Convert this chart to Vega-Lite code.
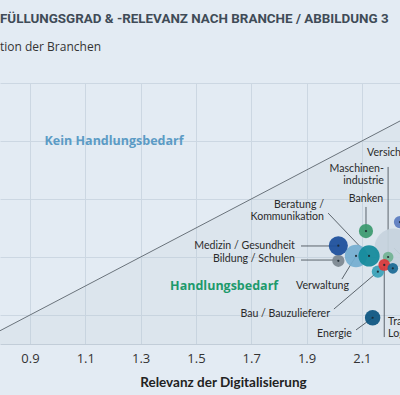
{
  "$schema": "https://vega.github.io/schema/vega-lite/v6.json",
  "width": 400,
  "height": 261,
  "autosize": {"type": "none"},
  "padding": {"top": 83, "left": 0, "right": 0, "bottom": 51},
  "background": "#e3ebf3",
  "title": {
    "text": "FÜLLUNGSGRAD & -RELEVANZ NACH BRANCHE / ABBILDUNG 3",
    "subtitle": "tion der Branchen",
    "anchor": "start",
    "frame": "group",
    "font": "Roboto",
    "fontSize": 13.4,
    "fontWeight": "bold",
    "color": "#3f4b57",
    "subtitleFont": "Open Sans",
    "subtitleFontSize": 12,
    "subtitleColor": "#333333",
    "subtitlePadding": 17,
    "offset": 30
  },
  "resolve": {"scale": {"color": "independent"}},
  "config": {
    "view": {"stroke": null},
    "font": "Open Sans",
    "text": {"lineBreak": "\n", "lineHeight": 12}
  },
  "datasets": {
    "diagonale": [
      {"relevanz": 0.7, "erfuellung": 0.7},
      {"relevanz": 2.5, "erfuellung": 2.5}
    ],
    "branchen": [
      {"branche": "Sonstige", "relevanz": 2.216, "erfuellung": 1.362, "anzahl": 121},
      {"branche": "Verwaltung", "relevanz": 2.079, "erfuellung": 1.307, "anzahl": 40},
      {"branche": "Bildung / Schulen", "relevanz": 2.015, "erfuellung": 1.274, "anzahl": 12},
      {"branche": "Medizin / Gesundheit", "relevanz": 2.015, "erfuellung": 1.378, "anzahl": 29},
      {"branche": "Beratung / Kommunikation", "relevanz": 2.126, "erfuellung": 1.307, "anzahl": 36},
      {"branche": "Banken", "relevanz": 2.115, "erfuellung": 1.479, "anzahl": 16},
      {"branche": "Bau / Bauzulieferer", "relevanz": 2.158, "erfuellung": 1.199, "anzahl": 12},
      {"branche": "Maschinenindustrie", "relevanz": 2.195, "erfuellung": 1.3, "anzahl": 9},
      {"branche": "Transport / Logistik", "relevanz": 2.181, "erfuellung": 1.245, "anzahl": 11},
      {"branche": "Handel", "relevanz": 2.212, "erfuellung": 1.222, "anzahl": 9},
      {"branche": "Energie", "relevanz": 2.139, "erfuellung": 0.881, "anzahl": 19},
      {"branche": "Versicherungen", "relevanz": 2.238, "erfuellung": 1.541, "anzahl": 12}
    ],
    "linien": [
      {"relevanz": 2.115, "erfuellung": 1.645, "relevanz2": 2.115, "erfuellung2": 1.479},
      {"relevanz": 2.195, "erfuellung": 1.921, "relevanz2": 2.195, "erfuellung2": 1.3},
      {"relevanz": 1.978, "erfuellung": 1.603, "relevanz2": 2.126, "erfuellung2": 1.307},
      {"relevanz": 1.88, "erfuellung": 1.376, "relevanz2": 2.015, "erfuellung2": 1.376},
      {"relevanz": 1.88, "erfuellung": 1.279, "relevanz2": 2.015, "erfuellung2": 1.279},
      {"relevanz": 2.028, "erfuellung": 1.148, "relevanz2": 2.079, "erfuellung2": 1.307},
      {"relevanz": 1.999, "erfuellung": 0.941, "relevanz2": 2.158, "erfuellung2": 1.199},
      {"relevanz": 2.079, "erfuellung": 0.797, "relevanz2": 2.139, "erfuellung2": 0.881},
      {"relevanz": 2.181, "erfuellung": 0.748, "relevanz2": 2.181, "erfuellung2": 1.245},
      {"relevanz": 2.216, "erfuellung": 1.362, "relevanz2": 2.281, "erfuellung2": 1.238}
    ],
    "beschriftungen": [
      {"text": "Versicherungen", "relevanz": 2.119, "erfuellung": 2.017},
      {"text": "Maschinen-\nindustrie", "relevanz": 2.18, "erfuellung": 1.907},
      {"text": "Banken", "relevanz": 2.115, "erfuellung": 1.7},
      {"text": "Beratung /\nKommunikation", "relevanz": 1.963, "erfuellung": 1.659},
      {"text": "Medizin / Gesundheit", "relevanz": 1.858, "erfuellung": 1.376},
      {"text": "Bildung / Schulen", "relevanz": 1.858, "erfuellung": 1.286},
      {"text": "Verwaltung", "relevanz": 1.862, "erfuellung": 1.097},
      {"text": "Bau / Bauzulieferer", "relevanz": 1.985, "erfuellung": 0.907},
      {"text": "Energie", "relevanz": 2.064, "erfuellung": 0.769},
      {"text": "Transport /\nLogistik", "relevanz": 2.195, "erfuellung": 0.852}
    ],
    "zonen": [
      {"zone": "Kein Handlungsbedarf", "relevanz": 1.204, "erfuellung": 2.1},
      {"zone": "Handlungsbedarf", "relevanz": 1.602, "erfuellung": 1.097}
    ]
  },
  "layer": [
    {
      "data": {"name": "diagonale"},
      "mark": {"type": "area", "color": "#b5c2cf", "opacity": 0.15, "clip": true},
      "encoding": {
        "x": {
          "field": "relevanz",
          "type": "quantitative",
          "title": "Relevanz der Digitalisierung",
          "scale": {"domain": [0.7915, 2.238], "nice": false, "zero": false},
          "axis": {
            "values": [0.9, 1.1, 1.3, 1.5, 1.7, 1.9, 2.1],
            "format": ".1f",
            "grid": true,
            "gridColor": "#ccd7e2",
            "ticks": false,
            "domainColor": "#c2cdd8",
            "labelFont": "Open Sans",
            "labelFontSize": 13,
            "labelColor": "#333333",
            "labelPadding": 8,
            "titleFont": "Lato",
            "titleFontSize": 13.5,
            "titleFontWeight": "bold",
            "titleColor": "#222222",
            "titleX": 223,
            "titleY": 31,
            "titleBaseline": "top"
          }
        },
        "y": {
          "field": "erfuellung",
          "type": "quantitative",
          "scale": {"domain": [0.7, 2.5], "nice": false, "zero": false},
          "axis": {
            "values": [0.9, 1.1, 1.3, 1.5, 1.7, 1.9, 2.1, 2.3, 2.5],
            "grid": true,
            "gridColor": "#ccd7e2",
            "labels": false,
            "ticks": false,
            "domain": false,
            "title": null
          }
        },
        "y2": {"datum": 0.7}
      }
    },
    {
      "data": {"name": "diagonale"},
      "mark": {"type": "line", "color": "#6a737b", "strokeWidth": 1, "clip": true},
      "encoding": {
        "x": {"field": "relevanz", "type": "quantitative"},
        "y": {"field": "erfuellung", "type": "quantitative"}
      }
    },
    {
      "data": {"name": "linien"},
      "mark": {"type": "rule", "color": "#4d565d", "strokeWidth": 0.9},
      "encoding": {
        "x": {"field": "relevanz", "type": "quantitative"},
        "y": {"field": "erfuellung", "type": "quantitative"},
        "x2": {"field": "relevanz2"},
        "y2": {"field": "erfuellung2"}
      }
    },
    {
      "data": {"name": "branchen"},
      "mark": {"type": "circle", "opacity": 0.93},
      "encoding": {
        "x": {"field": "relevanz", "type": "quantitative"},
        "y": {"field": "erfuellung", "type": "quantitative"},
        "size": {"field": "anzahl", "type": "quantitative", "scale": {"domain": [0, 121], "range": [0, 1520]}, "legend": null},
        "color": {
          "field": "branche",
          "type": "nominal",
          "legend": null,
          "scale": {
            "domain": ["Sonstige", "Verwaltung", "Bildung / Schulen", "Medizin / Gesundheit", "Beratung / Kommunikation", "Banken", "Bau / Bauzulieferer", "Maschinenindustrie", "Transport / Logistik", "Handel", "Energie", "Versicherungen"],
            "range": ["#c6d3de", "#74aed1", "#7c8890", "#1b4f9b", "#128a9b", "#3b9a6f", "#3aa3b8", "#72b393", "#d9383a", "#1b6a94", "#0c5580", "#5a7cc0"]
          }
        }
      }
    },
    {
      "data": {"name": "branchen"},
      "transform": [{"filter": "datum.branche != 'Sonstige'"}],
      "mark": {"type": "circle", "size": 5, "color": "#1c2830", "opacity": 0.9},
      "encoding": {
        "x": {"field": "relevanz", "type": "quantitative"},
        "y": {"field": "erfuellung", "type": "quantitative"}
      }
    },
    {
      "data": {"name": "beschriftungen"},
      "transform": [{"filter": {"field": "text", "oneOf": ["Maschinen-\nindustrie", "Beratung /\nKommunikation", "Medizin / Gesundheit", "Bildung / Schulen", "Bau / Bauzulieferer", "Energie"]}}],
      "mark": {"type": "text", "align": "right", "baseline": "middle", "font": "Lato", "fontSize": 10.6, "color": "#2b2b2b"},
      "encoding": {
        "x": {"field": "relevanz", "type": "quantitative"},
        "y": {"field": "erfuellung", "type": "quantitative"},
        "text": {"field": "text"}
      }
    },
    {
      "data": {"name": "beschriftungen"},
      "transform": [{"filter": {"field": "text", "oneOf": ["Versicherungen", "Verwaltung", "Transport /\nLogistik"]}}],
      "mark": {"type": "text", "align": "left", "baseline": "middle", "font": "Lato", "fontSize": 10.6, "color": "#2b2b2b"},
      "encoding": {
        "x": {"field": "relevanz", "type": "quantitative"},
        "y": {"field": "erfuellung", "type": "quantitative"},
        "text": {"field": "text"}
      }
    },
    {
      "data": {"name": "beschriftungen"},
      "transform": [{"filter": {"field": "text", "oneOf": ["Banken"]}}],
      "mark": {"type": "text", "align": "center", "baseline": "middle", "font": "Lato", "fontSize": 10.6, "color": "#2b2b2b"},
      "encoding": {
        "x": {"field": "relevanz", "type": "quantitative"},
        "y": {"field": "erfuellung", "type": "quantitative"},
        "text": {"field": "text"}
      }
    },
    {
      "data": {"name": "zonen"},
      "mark": {"type": "text", "align": "center", "baseline": "middle", "fontSize": 12.5, "fontWeight": "bold"},
      "encoding": {
        "x": {"field": "relevanz", "type": "quantitative"},
        "y": {"field": "erfuellung", "type": "quantitative"},
        "text": {"field": "zone"},
        "color": {"field": "zone", "type": "nominal", "legend": null, "scale": {"domain": ["Kein Handlungsbedarf", "Handlungsbedarf"], "range": ["#5b9bc5", "#1d9a6c"]}}
      }
    }
  ]
}
